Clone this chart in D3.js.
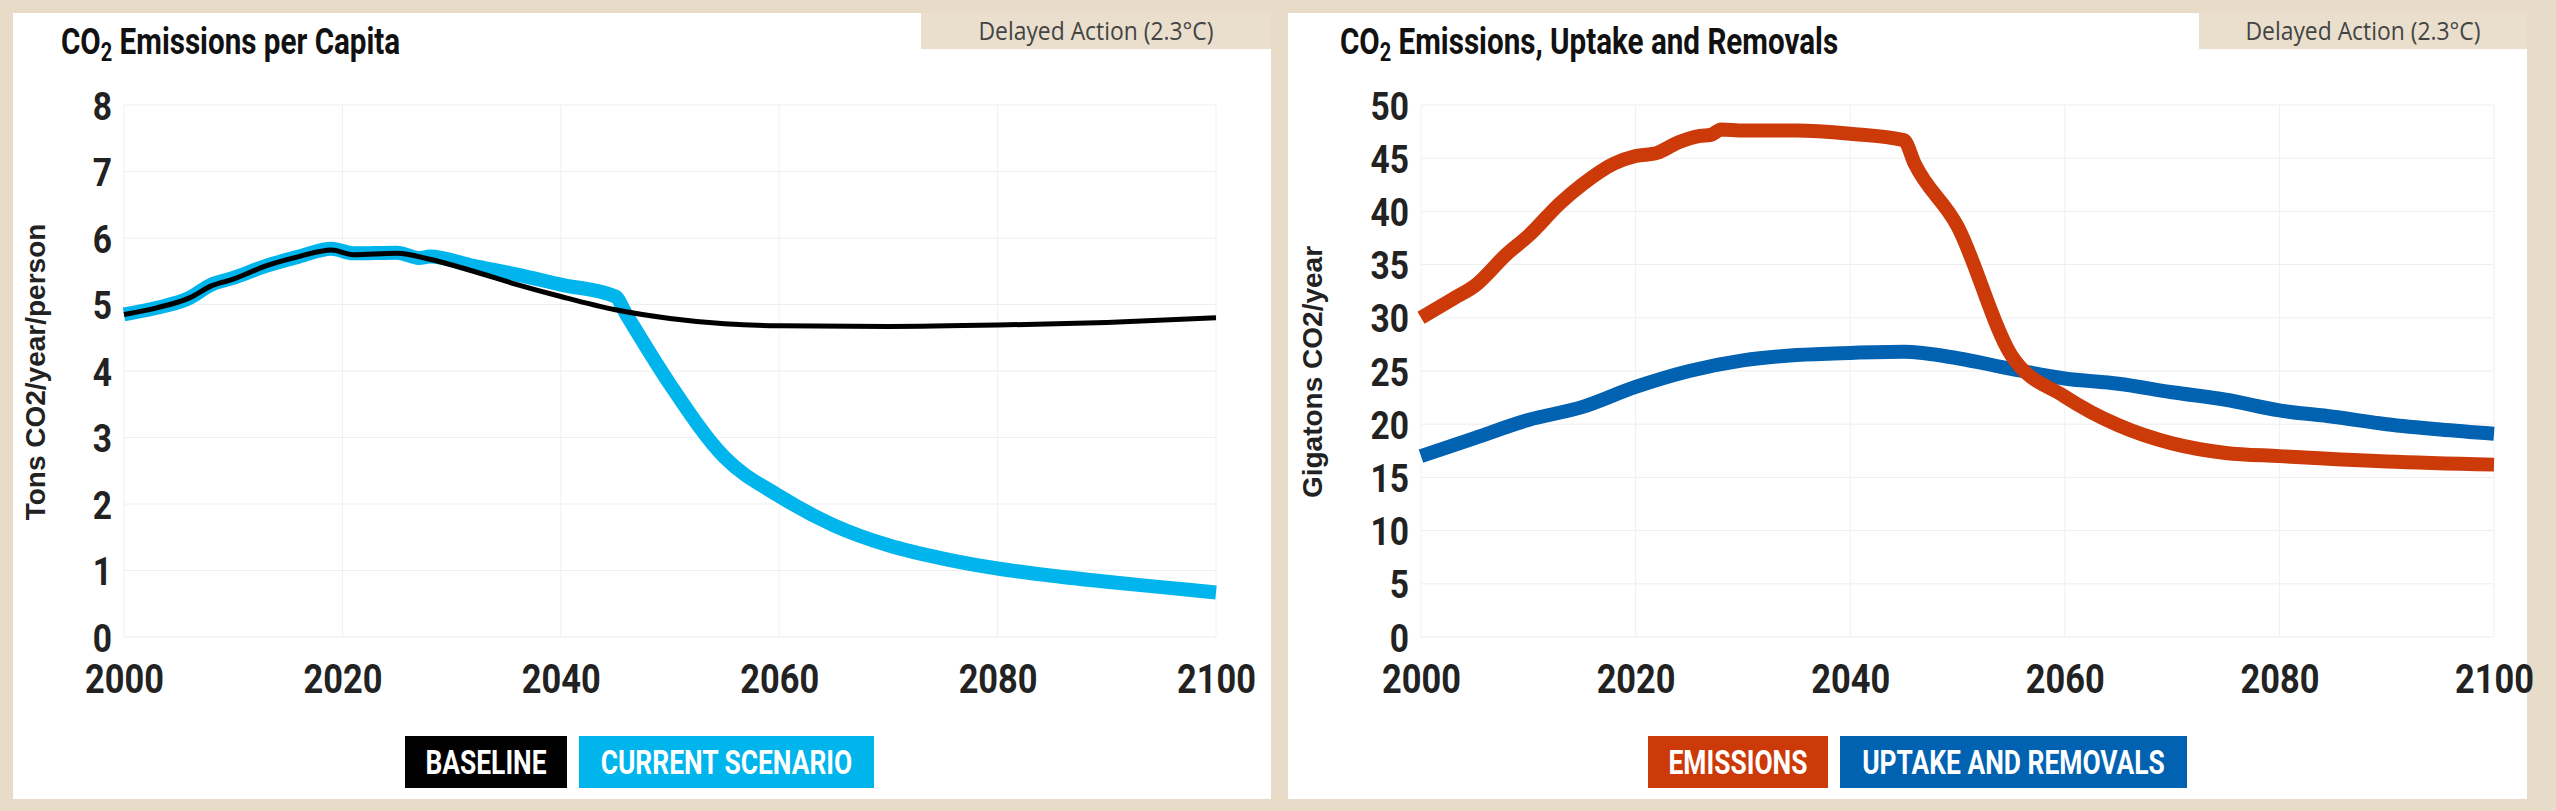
<!DOCTYPE html>
<html><head><meta charset="utf-8">
<script src="https://cdn.jsdelivr.net/npm/d3@7"></script>
<style>body{margin:0;background:#e8dcc8;}svg{display:block}</style>
</head><body>
<svg id="c" width="2556" height="811"></svg>
<script>
const xTicks = [2000,2020,2040,2060,2080,2100];
const leftYTicks = [0,1,2,3,4,5,6,7,8];
const rightYTicks = [0,5,10,15,20,25,30,35,40,45,50];

const baselineYears = [2000,2003,2006,2008,2010,2013,2016,2019,2021,2025,2028,2032,2036,2040,2045,2050,2055,2060,2070,2080,2090,2100];
const baselineVals  = [4.85,4.95,5.1,5.28,5.38,5.58,5.72,5.82,5.75,5.77,5.68,5.5,5.3,5.12,4.92,4.79,4.71,4.68,4.67,4.69,4.73,4.8];
const currentYears = [2000,2003,2006,2008,2010,2013,2016,2019,2021,2025,2027,2028,2032,2036,2040,2045,2046,2050,2055,2060,2065,2070,2075,2080,2085,2090,2095,2100];
const currentVals  = [4.85,4.95,5.1,5.3,5.4,5.58,5.72,5.84,5.77,5.78,5.7,5.72,5.58,5.45,5.3,5.12,4.85,3.8,2.7,2.12,1.68,1.38,1.18,1.03,0.92,0.83,0.75,0.67];

const emisYears = [2000,2003,2005,2008,2010,2013,2015,2018,2020,2022,2024,2026,2027,2028,2030,2035,2040,2045,2046,2050,2055,2060,2065,2070,2075,2080,2090,2100];
const emisVals  = [30,31.8,33,36,37.7,40.8,42.5,44.5,45.2,45.5,46.5,47.1,47.2,47.7,47.6,47.6,47.3,46.7,44.5,38.6,26.5,22.6,19.9,18.2,17.3,17.0,16.5,16.2];
const upYears = [2000,2005,2010,2015,2020,2025,2030,2035,2040,2045,2050,2055,2060,2065,2070,2075,2080,2085,2090,2095,2100];
const upVals  = [17.0,18.7,20.4,21.6,23.5,25.0,26.0,26.5,26.7,26.8,26.2,25.2,24.3,23.8,23.0,22.3,21.3,20.7,20.0,19.5,19.1];

const svg = d3.select('#c');
const COND = 'scale(0.86,1)';
const condFont = "Roboto, 'Liberation Sans', sans-serif";

function panel(o){
  const g = svg.append('g');
  g.append('rect').attr('x',o.px).attr('y',13).attr('width',o.pw).attr('height',786).attr('fill','#fff');
  const bcx = (o.bx+o.px+o.pw)/2;
  g.append('rect').attr('x',o.bx).attr('y',13).attr('width',o.px+o.pw-o.bx).attr('height',36).attr('fill','#e9dfcc');
  g.append('text').attr('x',bcx/0.88).attr('y',40).attr('text-anchor','middle')
    .attr('font-family',"'Open Sans', sans-serif").attr('font-size',26).attr('fill','#444')
    .attr('transform','scale(0.88,1)').text('Delayed Action (2.3°C)');
  const t = g.append('text').attr('x',o.tx/0.8).attr('y',54).attr('font-family',condFont).attr('font-weight',700)
    .attr('font-size',37).attr('fill','#111').attr('transform','scale(0.8,1)');
  t.append('tspan').text('CO');
  t.append('tspan').attr('font-size',25).attr('dy',7).text('2');
  t.append('tspan').attr('dy',-7).text(o.title);

  const x = d3.scaleLinear().domain([2000,2100]).range([o.x0,o.x1]);
  const y = d3.scaleLinear().domain([0,o.ymax]).range([637,105]);
  g.append('g').selectAll('line').data(o.yt).join('line')
    .attr('x1',o.x0).attr('x2',o.x1).attr('y1',d=>y(d)).attr('y2',d=>y(d)).attr('stroke','#eeeeee');
  g.append('g').selectAll('line').data(xTicks).join('line')
    .attr('y1',105).attr('y2',637).attr('x1',d=>x(d)).attr('x2',d=>x(d)).attr('stroke','#f0f0f0');
  const ya = g.append('g').attr('transform',`translate(${o.x0},0)`).call(d3.axisLeft(y).tickValues(o.yt).tickSize(0).tickPadding(14));
  ya.select('.domain').remove();
  ya.selectAll('text').attr('font-family',condFont).attr('font-weight',700).attr('font-size',39).attr('fill','#222').attr('dy','0.36em').attr('transform',COND);
  const xa = g.append('g').attr('transform',`translate(0,637)`).call(d3.axisBottom(x).tickValues(xTicks).tickFormat(d3.format('d')).tickSize(0).tickPadding(28));
  xa.select('.domain').remove();
  xa.selectAll('text').attr('font-family',condFont).attr('font-weight',700).attr('font-size',40).attr('fill','#222').attr('dy','0.71em').attr('transform',COND);
  g.append('text').attr('transform',`translate(${o.lx},${o.ly}) rotate(-90)`).attr('text-anchor','middle')
    .attr('font-family',"'Liberation Sans', Arial, sans-serif").attr('font-weight',700).attr('font-size',28).attr('fill','#222').text(o.ylabel);
  const line = d3.line().x(d=>x(d[0])).y(d=>y(d[1])).curve(d3.curveMonotoneX);
  o.series.forEach(s=>{
    g.append('path').attr('d',line(d3.zip(s.xs,s.vs))).attr('fill','none').attr('stroke',s.color)
      .attr('stroke-width',s.w).attr('stroke-linejoin','round').attr('stroke-linecap','butt');
  });
  o.legend.forEach(l=>{
    g.append('rect').attr('x',l.x).attr('y',736).attr('width',l.w).attr('height',52).attr('fill',l.color);
    g.append('text').attr('x',(l.x+l.w/2)/0.8).attr('y',774).attr('text-anchor','middle').attr('transform','scale(0.8,1)')
      .attr('font-family',condFont).attr('font-weight',700).attr('font-size',33).attr('fill','#fff').text(l.text);
  });
}

panel({px:13,pw:1258,bx:921,tx:61,title:' Emissions per Capita',x0:124,x1:1216,ymax:8,yt:leftYTicks,
  lx:45,ly:372,ylabel:'Tons CO2/year/person',
  series:[{xs:currentYears,vs:currentVals,color:'#00b4ec',w:14},{xs:baselineYears,vs:baselineVals,color:'#000',w:5}],
  legend:[{x:405,w:162,color:'#000',text:'BASELINE'},{x:579,w:295,color:'#00b4ec',text:'CURRENT SCENARIO'}]});
panel({px:1288,pw:1239,bx:2199,tx:1340,title:' Emissions, Uptake and Removals',x0:1421,x1:2494,ymax:50,yt:rightYTicks,
  lx:1322,ly:372,ylabel:'Gigatons CO2/year',
  series:[{xs:upYears,vs:upVals,color:'#0062b0',w:14},{xs:emisYears,vs:emisVals,color:'#cc3a0a',w:14}],
  legend:[{x:1648,w:180,color:'#cc3a0a',text:'EMISSIONS'},{x:1840,w:347,color:'#0062b0',text:'UPTAKE AND REMOVALS'}]});
</script>
</body></html>
